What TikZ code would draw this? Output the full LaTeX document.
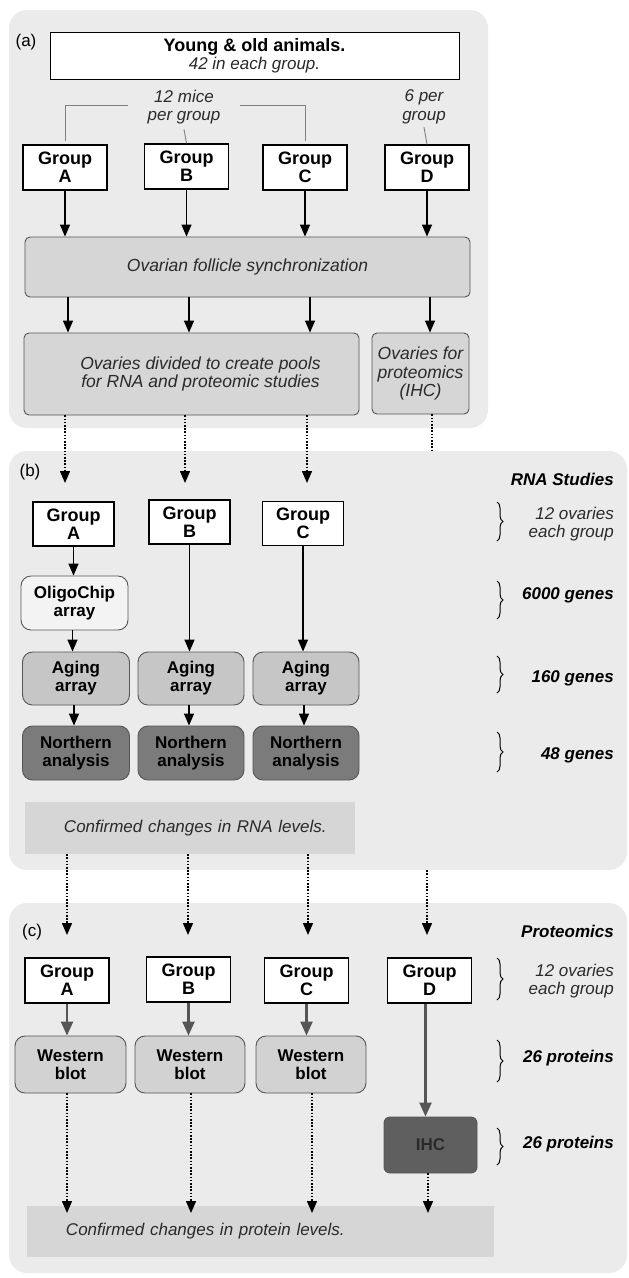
\documentclass[tikz,border=0pt]{standalone}
\usepackage{fontspec}
\setmainfont{Liberation Sans}
\usetikzlibrary{arrows.meta,decorations.pathreplacing}
\definecolor{panelbg}{HTML}{EBEBEB}
\definecolor{boxgray}{HTML}{D6D6D6}
\definecolor{aginggray}{HTML}{C6C6C6}
\definecolor{northgray}{HTML}{7B7B7B}
\definecolor{westgray}{HTML}{D2D2D2}
\definecolor{ihcgray}{HTML}{5F5F5F}
\definecolor{oligogray}{HTML}{F3F3F3}
\definecolor{edgegray}{HTML}{555555}
\definecolor{txtgray}{HTML}{2A2A2A}
\begin{document}
\begin{tikzpicture}[x=1pt,y=-1pt,
  font=\fontsize{17}{18.5}\selectfont,
  panel/.style={fill=panelbg, rounded corners=18pt, inner sep=0},
  grp/.style={draw=black, line width=1.3pt, fill=white, align=center, inner sep=0,
    font=\fontsize{18}{18}\selectfont\bfseries},
  graybox/.style={draw=edgegray, line width=0.9pt, fill=boxgray, rounded corners=5pt, align=center,
    inner sep=0, font=\fontsize{17.5}{18.5}\selectfont\itshape, text=txtgray},
  rbox/.style={draw=edgegray, line width=0.9pt, rounded corners=10pt, align=center, inner sep=0,
    font=\fontsize{17}{18}\selectfont\bfseries},
  conf/.style={fill=boxgray, inner sep=0, align=left, font=\fontsize{17}{18.5}\selectfont\itshape, text=txtgray},
  tag/.style={inner sep=0, font=\fontsize{17}{18.5}\selectfont},
  note/.style={inner sep=0, align=center, font=\fontsize{17}{18.5}\selectfont\itshape, text=txtgray},
  lab/.style={inner sep=0, align=right, anchor=east, font=\fontsize{17}{18.5}\selectfont\itshape, text=txtgray},
  blab/.style={inner sep=0, align=right, anchor=east, font=\fontsize{17}{18.5}\selectfont\bfseries\itshape},
  arr/.style={line width=1.4pt, -{Triangle[length=12pt,width=10pt]}},
  garr/.style={draw=edgegray, line width=2.2pt, -{Triangle[length=14pt,width=12pt]}},
  dotarr/.style={line width=1.4pt, dash pattern=on 1.6pt off 1.6pt, -{Triangle[length=12pt,width=10pt]}},
  dotline/.style={line width=1.4pt, dash pattern=on 1.6pt off 1.6pt},
  brk/.style={draw=gray, line width=0.9pt},
  brc/.style={line width=1pt, decorate, decoration={brace, amplitude=6pt}},
]
\useasboundingbox (0,0) rectangle (629,1278);

% panels
\node[panel, minimum width=479, minimum height=418] (pa) at (248.5,219) {};
\node[panel, minimum width=618, minimum height=419] (pb) at (318,660.5) {};
\node[panel, minimum width=618, minimum height=370] (pc) at (318,1088) {};

% ---------- (a)
\node[tag] (ta) at (26,42) {(a)};
\node[draw=black, line width=1pt, fill=white, minimum width=409, minimum height=47, inner sep=0, align=center]
  (top) at (254.5,55.5) {{\fontsize{18}{18.5}\selectfont\bfseries Young \& old animals.}\\{\color{txtgray}\itshape 42 in each group.}};
\node[note, minimum width=112] (mice) at (184,107) {12 mice\\per group};
\node[note] (six) at (424,107) {6 per\\group};
\node[grp, minimum width=84, minimum height=45] (ga1) at (65,167.5) {Group\\A};
\node[grp, minimum width=84, minimum height=45] (gb1) at (186.5,166.5) {Group\\B};
\node[grp, minimum width=84, minimum height=45] (gc1) at (305,167.5) {Group\\C};
\node[grp, minimum width=84, minimum height=45] (gd1) at (427,167.5) {Group\\D};
\draw[brk] ([yshift=2pt]mice.west) -| ([yshift=3pt]ga1.north);
\draw[brk] ([yshift=2pt]mice.east) -| ([yshift=3pt]gc1.north);
\draw[brk] ([yshift=-5pt]mice.south) -- (gb1.north);
\draw[brk] ([yshift=-3pt]six.south) -- (gd1.north);

\node[graybox, minimum width=445, minimum height=60] (sync) at (247.5,267) {Ovarian follicle synchronization};
\foreach \g in {ga1,gb1,gc1,gd1}{\draw[arr] (\g.south) -- (\g.south |- sync.north);}

\node[graybox, minimum width=335, minimum height=82] (ov1) at (191.5,374) {\hspace*{18pt}Ovaries divided to create pools\\\hspace*{18pt}for RNA and proteomic studies};
\node[graybox, minimum width=97, minimum height=81] (ov2) at (420.5,373.5) {Ovaries for\\proteomics\\(IHC)};
\coordinate (ka) at (68,0);
\coordinate (kb) at (189,0);
\coordinate (kc) at (310,0);
\coordinate (kd) at (430,0);
\draw[arr] (ka |- sync.south) -- (ka |- ov1.north);
\draw[arr] (kb |- sync.south) -- (kb |- ov1.north);
\draw[arr] (kc |- sync.south) -- (kc |- ov1.north);
\draw[arr] (kd |- sync.south) -- (kd |- ov2.north);

% dotted a -> b
\coordinate (da) at (65,483);
\coordinate (db) at (185,483);
\coordinate (dc) at (307,483);
\draw[dotarr] (da |- ov1.south) -- (da);
\draw[dotarr] (db |- ov1.south) -- (db);
\draw[dotarr] (dc |- ov1.south) -- (dc);
\draw[dotline] ([xshift=11.5pt]ov2.south) -- ([xshift=11.5pt]ov2.south |- pb.north);

% ---------- (b)
\node[tag] (tb) at (30,472) {(b)};
\node[blab] (rna) at (614,479) {RNA Studies};
\node[grp, minimum width=81, minimum height=44] (ga2) at (73.5,524) {Group\\A};
\node[grp, minimum width=81, minimum height=44] (gb2) at (189.5,522) {Group\\B};
\node[grp, minimum width=81, minimum height=44] (gc2) at (303,523.5) {Group\\C};
\node[rbox, fill=oligogray, minimum width=107, minimum height=54] (oligo) at (74.5,603) {OligoChip\\array};
\node[rbox, fill=aginggray, minimum width=107, minimum height=53] (aa) at (76,678.5) {Aging\\array};
\node[rbox, fill=aginggray, minimum width=106, minimum height=53] (ab) at (191,678.5) {Aging\\array};
\node[rbox, fill=aginggray, minimum width=106, minimum height=53] (ac) at (306,678.5) {Aging\\array};
\node[rbox, fill=northgray, minimum width=107, minimum height=54] (na) at (76,753) {Northern\\analysis};
\node[rbox, fill=northgray, minimum width=106, minimum height=54] (nb) at (191,753) {Northern\\analysis};
\node[rbox, fill=northgray, minimum width=106, minimum height=54] (nc) at (306,753) {Northern\\analysis};
\node[conf, minimum width=330, minimum height=52, text width=330] (conf1) at (190,828) {\hspace*{39pt}Confirmed changes in RNA levels.};

\draw[arr] (ga2.south) -- (ga2.south |- oligo.north);
\draw[arr] ([xshift=-2pt]oligo.south) -- ([xshift=-2pt]oligo.south |- aa.north);
\draw[arr] (gb2.south) -- (gb2.south |- ab.north);
\draw[arr] (gc2.south) -- (gc2.south |- ac.north);
\draw[arr] ([xshift=-2pt]aa.south) -- ([xshift=-2pt]aa.south |- na.north);
\draw[arr] ([xshift=-2pt]ab.south) -- ([xshift=-2pt]ab.south |- nb.north);
\draw[arr] ([xshift=-2pt]ac.south) -- ([xshift=-2pt]ac.south |- nc.north);

\draw[brc] (497,502) -- (497,541);
\node[lab] (lb1) at (614,524) {12 ovaries\\each group};
\draw[brc] (497,581) -- (497,619);
\node[blab] (lb2) at (614,595) {6000 genes};
\draw[brc] (497,656) -- (497,693);
\node[blab] (lb3) at (614,678) {160 genes};
\draw[brc] (497,732) -- (497,772);
\node[blab] (lb4) at (614,755) {48 genes};

% dotted b -> c
\coordinate (ea) at (67,935);
\coordinate (eb) at (188,935);
\coordinate (ec) at (308,935);
\coordinate (ed) at (427,935);
\draw[dotarr] (ea |- conf1.south) -- (ea);
\draw[dotarr] (eb |- conf1.south) -- (eb);
\draw[dotarr] (ec |- conf1.south) -- (ec);
\draw[dotarr] (ed |- pb.south) -- (ed);

% ---------- (c)
\node[tag] (tc) at (32,932) {(c)};
\node[blab] (prot) at (614,931) {Proteomics};
\node[grp, minimum width=84, minimum height=45] (ga3) at (67,980.5) {Group\\A};
\node[grp, minimum width=84, minimum height=45] (gb3) at (188.5,979.5) {Group\\B};
\node[grp, minimum width=84, minimum height=45] (gc3) at (306.5,980.5) {Group\\C};
\node[grp, minimum width=84, minimum height=45] (gd3) at (429.5,980.5) {Group\\D};
\node[rbox, fill=westgray, minimum width=111, minimum height=57] (wa) at (70.5,1064.5) {Western\\blot};
\node[rbox, fill=westgray, minimum width=110, minimum height=57] (wb) at (190,1064.5) {Western\\blot};
\node[rbox, fill=westgray, minimum width=110, minimum height=57] (wc) at (311,1064.5) {Western\\blot};
\node[rbox, fill=ihcgray, rounded corners=6pt, text=txtgray, minimum width=93, minimum height=56] (ihc) at (430.5,1145) {IHC};
\node[conf, minimum width=467, minimum height=51, text width=467] (conf2) at (260.5,1231.5) {\hspace*{39pt}Confirmed changes in protein levels.};

\draw[garr] (ga3.south) -- (ga3.south |- wa.north);
\draw[garr] (gb3.south) -- (gb3.south |- wb.north);
\draw[garr] (gc3.south) -- (gc3.south |- wc.north);
\draw[garr] ([xshift=-4pt]gd3.south) -- ([xshift=-4pt]gd3.south |- ihc.north);

\coordinate (fa) at (67,1213);
\coordinate (fb) at (191,1213);
\coordinate (fc) at (312,1213);
\coordinate (fd) at (428,1213);
\draw[dotarr] (fa |- wa.south) -- (fa);
\draw[dotarr] (fb |- wb.south) -- (fb);
\draw[dotarr] (fc |- wc.south) -- (fc);
\draw[dotarr] (fd |- ihc.south) -- (fd);

\draw[brc] (497,958) -- (497,1000);
\node[lab] (lc1) at (614,981) {12 ovaries\\each group};
\draw[brc] (497,1040) -- (497,1082);
\node[blab] (lc2) at (614,1058) {26 proteins};
\draw[brc] (497,1128) -- (497,1165);
\node[blab] (lc3) at (614,1144) {26 proteins};
\end{tikzpicture}
\end{document}
